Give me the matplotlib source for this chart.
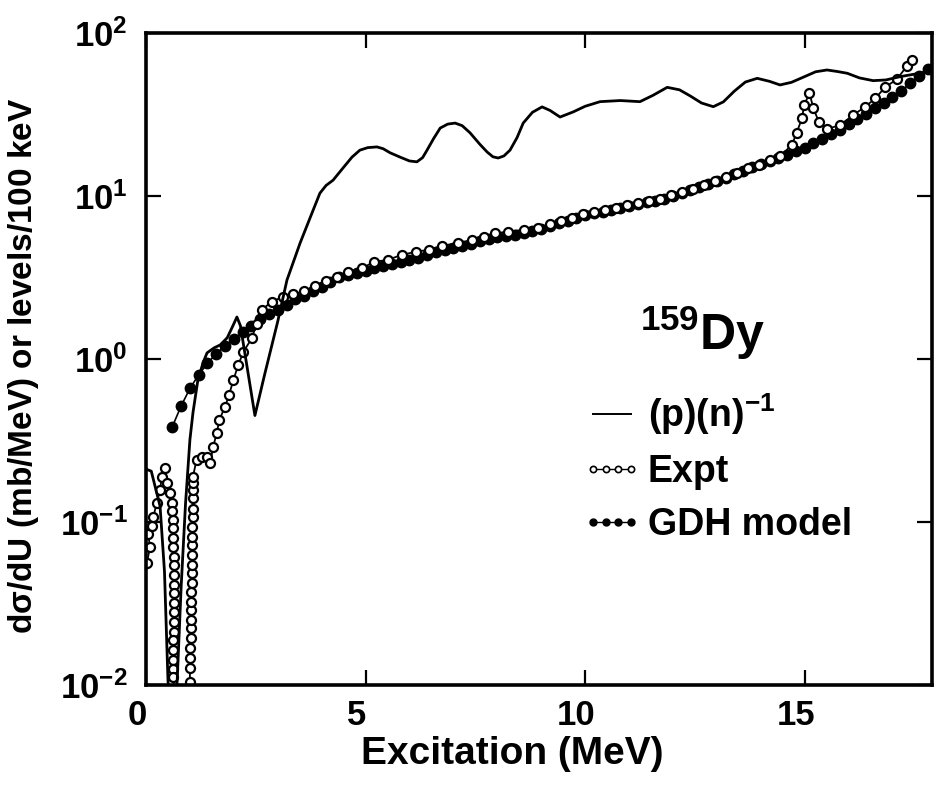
import numpy as np
import matplotlib
matplotlib.use('Agg')
from matplotlib import pyplot as plt
from matplotlib.lines import Line2D
from matplotlib.ticker import FixedLocator, LogFormatterMathtext, NullLocator
import matplotlib.transforms as mtransforms

plt.rcParams['font.family'] = ['Liberation Sans', 'DejaVu Sans']
plt.rcParams['font.weight'] = 'bold'
plt.rcParams['mathtext.fontset'] = 'custom'
plt.rcParams['mathtext.rm'] = 'Liberation Sans:bold'
plt.rcParams['mathtext.bf'] = 'Liberation Sans:bold'
plt.rcParams['mathtext.it'] = 'Liberation Sans:bold'
plt.rcParams['mathtext.default'] = 'bf'

# (p)(n)^-1 curve
pn_x = [0.02, 0.12, 0.22, 0.32, 0.42, 0.50, 0.60, 0.71, 0.80, 0.90, 1.0, 1.07, 1.18, 1.30, 1.39,
        1.55, 1.69, 1.85, 1.98, 2.07, 2.15, 2.30, 2.48, 2.70, 3.0, 3.21, 3.51, 3.75, 3.96, 4.1,
        4.26, 4.5, 4.69, 4.87, 5.05, 5.26, 5.4, 5.56, 5.79, 6.0, 6.17, 6.30, 6.40, 6.55, 6.70,
        6.87, 7.04, 7.2, 7.38, 7.6, 7.77, 7.9, 8.02, 8.15, 8.29, 8.45, 8.59, 8.8, 9.02, 9.2,
        9.43, 9.73, 10.0, 10.34, 10.8, 11.25, 11.55, 11.87, 12.15, 12.4, 12.65, 12.92, 13.15,
        13.4, 13.65, 13.92, 14.2, 14.44, 14.7, 15.0, 15.25, 15.51, 15.75, 15.97, 16.25, 16.56,
        16.85, 17.18, 17.6, 18.0]
pn_y = [0.21, 0.205, 0.16, 0.125, 0.05, 0.0107, 0.004, 0.0107, 0.04, 0.13, 0.32, 0.47, 0.74, 0.95,
        1.09, 1.17, 1.22, 1.35, 1.6, 1.81, 1.6, 0.9, 0.45, 0.8, 1.7, 3.05, 5.15, 7.5, 10.4, 11.6,
        12.5, 15.0, 17.3, 19.1, 19.8, 20.0, 19.5, 18.4, 17.3, 16.4, 16.2, 17.2, 19.1, 22.5, 26.1,
        27.6, 28.0, 27.0, 24.4, 20.8, 18.6, 17.4, 17.1, 17.6, 19.1, 22.8, 28.0, 32.6, 35.2, 33.5,
        30.5, 32.8, 35.5, 37.9, 38.5, 37.9, 41.5, 46.4, 44.8, 41.0, 37.2, 35.3, 37.8,
        44.0, 50.0, 52.7, 50.5, 48.0, 49.8, 54.0, 57.8, 59.3, 58.0, 56.6, 53.0, 51.0,
        51.5, 54.0, 56.5, 59.8]

# Expt
expt_x = [0.02, 0.09, 0.05, 0.13, 0.17, 0.24, 0.32, 0.36, 0.43, 0.47, 0.55, 0.585,
          0.60, 0.61, 0.61, 0.62, 0.62, 0.63, 0.63, 0.64, 0.64, 0.64, 0.64, 0.63, 0.63,
          0.63, 0.62, 0.62, 0.62, 0.61, 0.61,
          0.82,
          1.00, 1.00, 1.01, 1.01, 1.02, 1.02, 1.02, 1.03, 1.03, 1.03, 1.04, 1.04, 1.04,
          1.05, 1.05, 1.05, 1.05, 1.06, 1.06, 1.06, 1.07, 1.07, 1.07,
          1.15, 1.27, 1.38, 1.46, 1.53, 1.61, 1.67, 1.80, 1.89, 1.99, 2.10, 2.22, 2.41,
          2.52, 2.64, 2.86, 3.13, 3.35, 3.6, 3.85, 4.1, 4.35, 4.6, 4.91, 5.2, 5.5, 5.82,
          6.15, 6.45, 6.75, 7.1, 7.42, 7.7, 7.95, 8.25, 8.6, 8.92, 9.2, 9.45, 9.7, 9.95,
          10.2, 10.45, 10.7, 10.95, 11.2, 11.45, 11.7, 11.95, 12.2, 12.45, 12.7, 12.95,
          13.2, 13.45, 13.7, 13.95, 14.2, 14.45, 14.71, 14.82, 14.94, 14.99, 15.11, 15.20,
          15.32, 15.51, 15.81, 16.11, 16.38, 16.61, 16.83, 17.10, 17.33, 17.44]
expt_y = [0.056, 0.070, 0.085, 0.094, 0.108, 0.130, 0.157, 0.190, 0.213, 0.173, 0.150, 0.130,
          0.116, 0.103, 0.0915, 0.0794, 0.0706, 0.0613, 0.0545, 0.0473, 0.0411, 0.0366,
          0.0317, 0.0282, 0.0244, 0.0212, 0.0189, 0.0164, 0.0142, 0.0126, 0.0112,
          0.004,
          0.0105, 0.01265, 0.0146, 0.0168, 0.0193, 0.0223, 0.0251, 0.0289, 0.0325, 0.0374,
          0.0421, 0.0484, 0.0545, 0.0628, 0.0723, 0.0813, 0.0936, 0.108, 0.121, 0.140,
          0.157, 0.173, 0.190,
          0.240, 0.252, 0.252, 0.229, 0.290, 0.350, 0.423, 0.510, 0.601, 0.743, 0.918, 1.11, 1.34,
          1.65, 2.0, 2.25, 2.41, 2.5, 2.6, 2.8, 3.0, 3.2, 3.4, 3.6, 3.95, 4.05, 4.35,
          4.55, 4.68, 4.95, 5.15, 5.37, 5.6, 5.9, 6.05, 6.2, 6.34, 6.7, 7.0, 7.3, 7.7,
          8.0, 8.2, 8.45, 8.75, 9.05, 9.35, 9.65, 10.1, 10.6, 11.1, 11.7, 12.3,
          13.1, 13.9, 14.8, 15.6, 16.6, 17.6, 20.6, 24.5, 30.0, 36.2, 42.7, 34.5,
          28.6, 25.7, 27.3, 31.4, 35.3, 39.7, 46.4, 52.0, 62.7, 68.3]

# GDH model
gdh_x = np.round(np.arange(0.6, 17.81, 0.2), 2)
gdh_y = [0.385, 0.515, 0.66, 0.80, 0.94, 1.08, 1.20, 1.33, 1.46, 1.60, 1.76, 1.90, 2.01,
         2.14, 2.32, 2.45, 2.61, 2.77, 2.97, 3.17, 3.28, 3.38, 3.49, 3.60, 3.71, 3.83, 3.94,
         4.05, 4.19, 4.36, 4.51, 4.66, 4.80, 4.96, 5.11, 5.27, 5.44, 5.57, 5.68, 5.80, 5.95,
         6.10, 6.28, 6.53, 6.78, 7.05, 7.32, 7.60, 7.88, 7.97, 8.16, 8.42, 8.68, 8.92, 9.15,
         9.38, 9.61, 9.98, 10.42, 10.88, 11.36, 11.85, 12.4, 12.95, 13.55, 14.3, 15.0, 15.7,
         16.4, 17.2, 17.95, 18.8, 19.8, 21.0, 22.4, 23.9, 25.5, 27.5, 29.7, 32.0, 34.6, 37.4,
         40.6, 44.1, 49.0, 54.5, 60.5]

fig = plt.figure(figsize=(9.36, 7.87), dpi=100)
ax = fig.add_axes([0.156, 0.1296, 0.8397, 0.8285])

ax.plot(gdh_x, gdh_y, color='k', lw=1.2, marker='o', ms=7.5, mfc='k', mec='k')
ax.plot(expt_x, expt_y, color='k', lw=1.3, marker='o', ms=6.5, mfc='white', mec='k', mew=1.6)
ax.plot(pn_x, pn_y, color='k', lw=2.0, solid_joinstyle='round')

ax.set_yscale('log')
ax.set_xlim(0, 17.9)
ax.set_ylim(1e-2, 1e2)

ax.xaxis.set_major_locator(FixedLocator([0, 5, 10, 15]))
ax.xaxis.set_minor_locator(NullLocator())
ax.yaxis.set_major_locator(FixedLocator([1e-2, 1e-1, 1e0, 1e1, 1e2]))
ax.yaxis.set_minor_locator(NullLocator())
ax.yaxis.set_major_formatter(LogFormatterMathtext())

ax.tick_params(direction='in', length=11, width=1.6, top=True, right=True,
               labelsize=25, pad=13)
ax.tick_params(axis='x', pad=10)
for s in ax.spines.values():
    s.set_linewidth(2.6)

shift = mtransforms.ScaledTranslation(-9 / 100, 0, fig.dpi_scale_trans)
for lab in ax.get_xticklabels():
    lab.set_transform(lab.get_transform() + shift)

ax.set_xlabel('Excitation (MeV)', fontsize=28, fontweight='bold')
ax.xaxis.set_label_coords(0.466, -0.078)
ax.set_ylabel(r'd$\sigma$/dU (mb/MeV) or levels/100 keV', fontsize=24, fontweight='bold')
ax.yaxis.set_label_coords(-0.134, 0.49)

ax.text(0.628, 0.514, r'$^{159}$Dy', transform=ax.transAxes, fontsize=36,
        fontweight='bold', va='baseline')

handles = [Line2D([], [], color='k', lw=1.4),
           Line2D([], [], color='k', lw=1.0, marker='o', ms=4.5, mfc='white', mec='k', mew=1.2),
           Line2D([], [], color='k', lw=1.0, marker='o', ms=5, mfc='k', mec='k')]
ax.legend(handles, [r'(p)(n)$^{-1}$', 'Expt', 'GDH model'], loc='upper left',
          bbox_to_anchor=(0.555, 0.45), frameon=False, numpoints=4,
          handlelength=1.6, handletextpad=0.15, labelspacing=0.45,
          borderpad=0, borderaxespad=0, prop={'size': 27, 'weight': 'bold'})

plt.savefig('out.png', dpi=100)
